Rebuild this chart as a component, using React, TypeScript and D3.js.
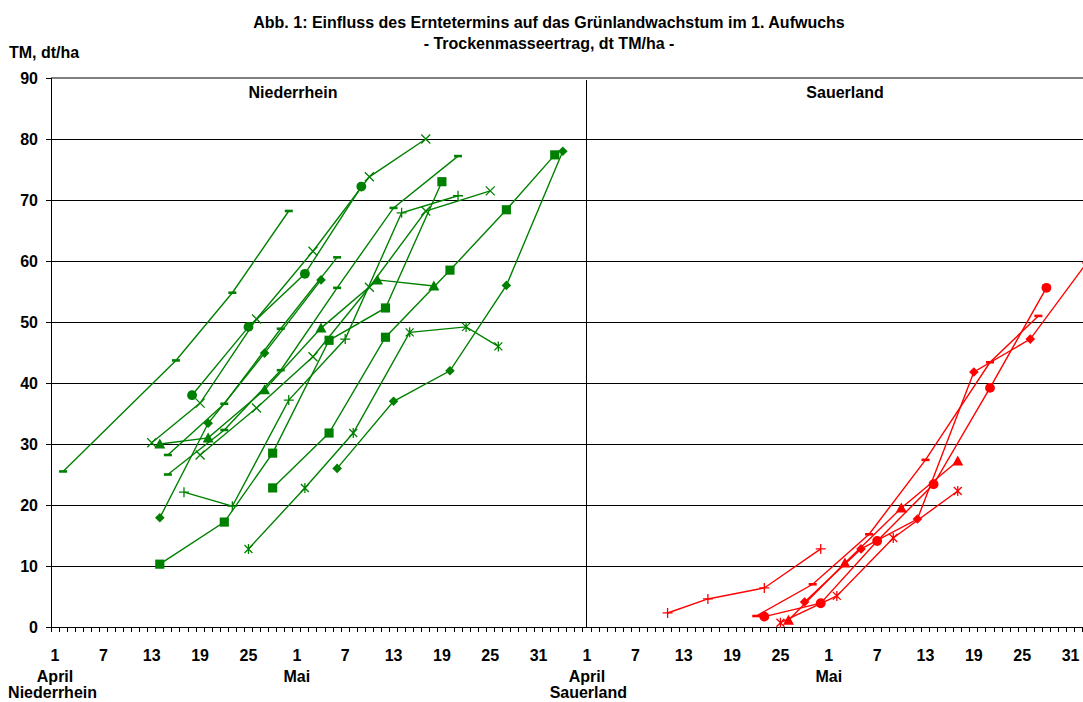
import * as d3 from "d3";

// day index: 0 = 1 April of the region's panel
const dayTicks = [0, 6, 12, 18, 24, 30, 36, 42, 48, 54, 60];
const dayTickLabels = ["1", "7", "13", "19", "25", "1", "7", "13", "19", "25", "31"];
const monthTicks = [0, 30];
const monthLabels = ["April", "Mai"];
const yTicks = [0, 10, 20, 30, 40, 50, 60, 70, 80, 90];

// Niederrhein (green)
const nrDashA = { days: [1, 15, 22, 29], tm: [25.5, 43.7, 54.8, 68.2] };
const nrCircle = { days: [17, 24, 31, 38], tm: [38, 49.2, 57.9, 72.2] };
const nrCrossA = { days: [12, 18, 25, 32, 39, 46], tm: [30.2, 36.7, 50.5, 61.6, 73.8, 80] };
const nrCrossB = { days: [18, 25, 32, 39, 46, 54], tm: [28.2, 35.9, 44.3, 55.7, 68.2, 71.5] };
const nrTriangle = { days: [13, 19, 26, 33, 40, 47], tm: [30, 31, 38.9, 49, 56.9, 55.9] };
const nrPlus = { days: [16, 22, 29, 36, 43, 50], tm: [22.1, 19.8, 37.2, 47.2, 67.9, 70.7] };
const nrSquareA = { days: [13, 21, 27, 34, 41, 48], tm: [10.3, 17.2, 28.5, 47, 52.3, 73] };
const nrSquareB = { days: [27, 34, 41, 49, 56, 62], tm: [22.8, 31.8, 47.5, 58.5, 68.4, 77.4] };
const nrDiamondA = { days: [13, 19, 26, 33], tm: [17.9, 33.4, 44.9, 56.9] };
const nrDiamondB = { days: [35, 42, 49, 56, 63], tm: [26, 37, 42, 56, 78] };
const nrStar = { days: [24, 31, 37, 44, 51, 55], tm: [12.8, 22.8, 31.8, 48.3, 49.2, 46] };
const nrDashB = { days: [14, 21, 28, 35], tm: [28.2, 36.6, 48.9, 60.6] };
const nrDashC = { days: [14, 21, 28, 35, 42, 50], tm: [25, 32.3, 42.1, 55.6, 68.7, 77.2] };

// Sauerland (red)
const slPlus = { days: [10, 15, 22, 29], tm: [2.3, 4.6, 6.4, 12.8] };
const slDash = { days: [21, 28, 35, 42, 50, 56], tm: [1.8, 7.0, 15.2, 27.4, 43.4, 51] };
const slCircle = { days: [22, 29, 36, 43, 50, 57], tm: [1.7, 3.9, 14.1, 23.4, 39.2, 55.6] };
const slTriangle = { days: [25, 32, 39, 46], tm: [1.1, 10.5, 19.5, 27.2] };
const slStar = { days: [24, 31, 38, 46], tm: [0.7, 5.1, 14.6, 22.3] };
const slDiamond = { days: [27, 34, 41, 48, 55, 62], tm: [4.1, 12.8, 17.7, 41.8, 47.2, 59.7] };

const sauerlandOffset = 66;
const green = "#008000";
const red = "#ff0000";
const font = "'Liberation Sans', Arial, sans-serif";

type Series = { days: number[]; tm: number[] };
type Kind = "circle" | "square" | "triangle" | "diamond" | "plus" | "cross" | "star" | "dash";

const niederrhein: [Series, Kind][] = [
  [nrDashA, "dash"],
  [nrCircle, "circle"],
  [nrCrossA, "cross"],
  [nrCrossB, "cross"],
  [nrTriangle, "triangle"],
  [nrPlus, "plus"],
  [nrSquareA, "square"],
  [nrSquareB, "square"],
  [nrDiamondA, "diamond"],
  [nrDiamondB, "diamond"],
  [nrStar, "star"],
  [nrDashB, "dash"],
  [nrDashC, "dash"],
];

const sauerland: [Series, Kind][] = [
  [slPlus, "plus"],
  [slDash, "dash"],
  [slCircle, "circle"],
  [slTriangle, "triangle"],
  [slStar, "star"],
  [slDiamond, "diamond"],
];

function markerPath(kind: Kind): string {
  switch (kind) {
    case "circle":
      return d3.symbol(d3.symbolCircle, 76)() ?? "";
    case "square":
      return d3.symbol(d3.symbolSquare, 84)() ?? "";
    case "triangle":
      return "M0,-5.5L5.5,4.5L-5.5,4.5Z";
    case "diamond":
      return "M0,-4.8L4.8,0L0,4.8L-4.8,0Z";
    case "plus":
      return "M-5,0H5M0,-5V5";
    case "cross":
      return "M-4.5,-4.5L4.5,4.5M-4.5,4.5L4.5,-4.5";
    case "star":
      return "M-4,-4L4,4M-4,4L4,-4M0,-5V5";
    case "dash":
      return "M-4,-1.3H4V1.3H-4Z";
  }
}

const stroked = (k: Kind) => k === "plus" || k === "cross" || k === "star";

export default function App() {
  const width = 1083;
  const height = 702;
  const nCats = 130;
  const catW = 8.06;
  const left = 51;
  const top = 78;
  const bottom = 627;

  const x = d3
    .scaleLinear()
    .domain([-0.5, nCats - 0.5])
    .range([left, left + nCats * catW]);
  const y = d3.scaleLinear().domain([0, 90]).range([bottom, top]);
  const right = x(nCats - 0.5);

  const line = d3
    .line<[number, number]>()
    .x((d) => x(d[0]))
    .y((d) => y(d[1]));

  const renderSeries = (list: [Series, Kind][], offset: number, color: string) =>
    list.map(([s, kind], i) => {
      const pts: [number, number][] = s.days.map((d, j) => [d + offset, s.tm[j]]);
      const path = markerPath(kind);
      return (
        <g key={i}>
          <path d={line(pts) ?? ""} fill="none" stroke={color} strokeWidth={1.4} />
          {pts.map((p, j) => (
            <path
              key={j}
              d={path}
              transform={`translate(${x(p[0])},${y(p[1])})`}
              fill={stroked(kind) ? "none" : color}
              stroke={color}
              strokeWidth={stroked(kind) ? 1.3 : 0}
            />
          ))}
        </g>
      );
    });

  const boundaries = d3.range(nCats + 1).map((i) => i - 0.5);

  return (
    <div style={{ position: "absolute", left: 0, top: 0 }}>
      <svg width={width} height={height} style={{ display: "block", background: "#fff" }}>
        {/* titles */}
        <g fontFamily={font} fontWeight="bold" fontSize={16} fill="#000">
          <text x={549} y={28} textAnchor="middle">
            Abb. 1: Einfluss des Erntetermins auf das Grünlandwachstum im 1. Aufwuchs
          </text>
          <text x={549} y={49} textAnchor="middle">
            - Trockenmasseertrag, dt TM/ha -
          </text>
          <text x={9} y={58}>TM, dt/ha</text>
        </g>

        {/* grid */}
        {yTicks.slice(1, -1).map((t) => (
          <line key={t} x1={left} x2={right} y1={y(t)} y2={y(t)} stroke="#000" strokeWidth={1} shapeRendering="crispEdges" />
        ))}
        <line x1={left} x2={right} y1={y(90)} y2={y(90)} stroke="#808080" strokeWidth={2} />

        {/* y axis */}
        <line x1={left} x2={left} y1={top} y2={bottom} stroke="#000" strokeWidth={1} shapeRendering="crispEdges" />
        {yTicks.map((t) => (
          <g key={t}>
            <line x1={left - 5} x2={left} y1={y(t)} y2={y(t)} stroke="#000" shapeRendering="crispEdges" />
            <text x={38} y={y(t) + 6} textAnchor="end" fontFamily={font} fontWeight="bold" fontSize={16}>
              {t}
            </text>
          </g>
        ))}

        {/* panel divider */}
        <line
          x1={x(sauerlandOffset)}
          x2={x(sauerlandOffset)}
          y1={top + 2}
          y2={bottom}
          stroke="#000"
          strokeWidth={1}
          shapeRendering="crispEdges"
        />

        {/* x axis */}
        <line x1={left} x2={right} y1={bottom} y2={bottom} stroke="#000" shapeRendering="crispEdges" />
        {boundaries.map((b) => (
          <line key={b} x1={x(b)} x2={x(b)} y1={bottom} y2={bottom + 5} stroke="#000" shapeRendering="crispEdges" />
        ))}
        <g fontFamily={font} fontWeight="bold" fontSize={16} textAnchor="middle">
          {[0, sauerlandOffset].map((off) => (
            <g key={off}>
              {dayTicks.map((d, i) => (
                <text key={d} x={x(d + off)} y={661}>
                  {dayTickLabels[i]}
                </text>
              ))}
              {monthTicks.map((d, i) => (
                <text key={d} x={x(d + off)} y={682}>
                  {monthLabels[i]}
                </text>
              ))}
            </g>
          ))}
          <text x={x(0) + 42} y={698} textAnchor="end">Niederrhein</text>
          <text x={x(sauerlandOffset) + 40} y={698} textAnchor="end">Sauerland</text>
          <text x={293} y={98}>Niederrhein</text>
          <text x={845} y={98}>Sauerland</text>
        </g>

        {renderSeries(niederrhein, 0, green)}
        {renderSeries(sauerland, sauerlandOffset, red)}
      </svg>
    </div>
  );
}
